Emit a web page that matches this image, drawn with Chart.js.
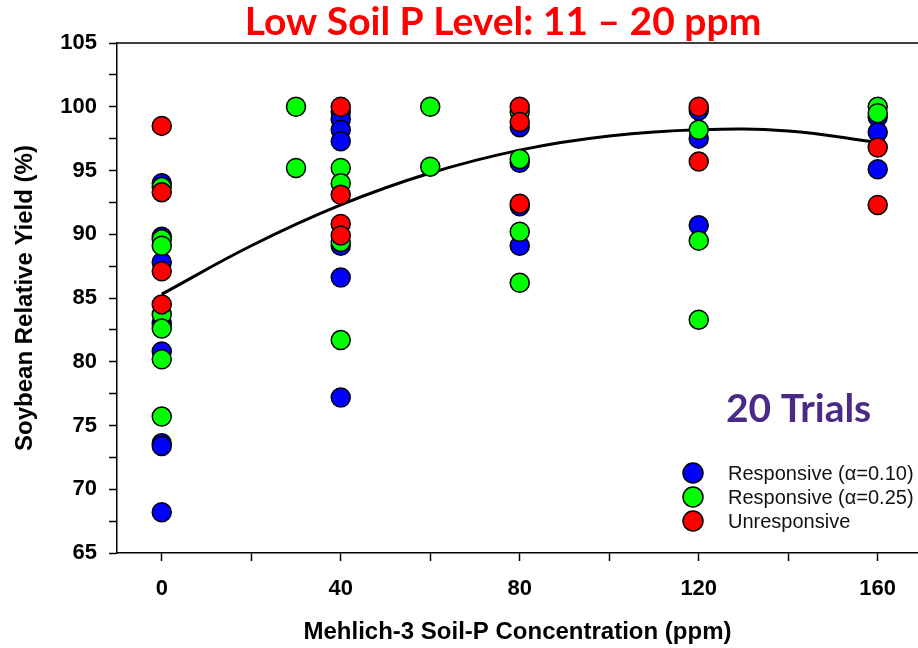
<!DOCTYPE html>
<html lang="en">
<head>
<meta charset="UTF-8">
<title>Low Soil P Level</title>
<script src="https://cdn.jsdelivr.net/npm/chart.js"></script>
<style>
    html, body { margin: 0; padding: 0; background: #fff; }
    #wrap { width: 918px; height: 648px; }
</style>
</head>
<body>
<div id="wrap"><canvas id="grafico"></canvas></div>
<script>
    // values
    const resp10X = [0, 0, 0, 0, 0, 0, 0, 0, 40, 40, 40, 40, 40, 40, 40, 80, 80, 80, 80, 120, 120, 120, 160, 160, 160];
    const resp10Y = [94.0, 89.8, 87.8, 83.0, 80.8, 73.6, 73.4, 68.2, 99.6, 99.0, 98.2, 97.3, 89.1, 86.6, 77.2, 98.4, 95.6, 92.2, 89.1, 99.7, 97.5, 90.7, 99.2, 98.0, 95.1];

    const resp25X = [0, 0, 0, 0, 0, 0, 0, 30, 30, 40, 40, 40, 40, 60, 60, 80, 80, 80, 80, 120, 120, 120, 160, 160];
    const resp25Y = [93.7, 89.6, 89.1, 83.7, 82.6, 80.2, 75.7, 100, 95.2, 95.2, 94.0, 89.4, 81.7, 100, 95.3, 99.6, 95.9, 90.2, 86.2, 98.2, 89.5, 83.3, 100, 99.5];

    const unrespX = [0, 0, 0, 0, 40, 40, 40, 40, 80, 80, 80, 120, 120, 160, 160];
    const unrespY = [98.5, 93.3, 87.1, 84.5, 100, 93.1, 90.8, 89.9, 100, 98.8, 92.4, 100, 95.7, 96.8, 92.3];

    // fitted curve
    const curvaX = [0, 20, 40, 60, 80, 100, 120, 140, 160];
    const curvaY = [85.3, 89.1, 92.3, 94.8, 96.6, 97.7, 98.2, 98.1, 97.2];

    const legendas = ['Responsive (\u03b1=0.10)', 'Responsive (\u03b1=0.25)', 'Unresponsive'];
    const cores = ['#0000ff', '#00ff00', '#ff0000'];

    function pontos(xs, ys) {
        let lista = [];
        for (let i = 0; i < xs.length; i++) {
            lista.push({ x: xs[i], y: ys[i] });
        }
        return lista;
    }

    const extras = {
        id: 'extras',
        afterDraw(chart) {
            const ctx = chart.ctx;
            const area = chart.chartArea;
            ctx.save();
            // top frame line
            ctx.strokeStyle = '#000';
            ctx.lineWidth = 1.5;
            ctx.beginPath();
            ctx.moveTo(area.left, area.top);
            ctx.lineTo(chart.width, area.top);
            ctx.stroke();

            // title
            ctx.fillStyle = '#ff0000';
            ctx.font = 'bold 39px Lato';
            ctx.textAlign = 'center';
            ctx.textBaseline = 'middle';
            ctx.fillText('Low Soil P Level: 11 \u2013 20 ppm', 503, 22);

            // trials note
            ctx.fillStyle = '#4b2a87';
            ctx.font = 'bold 39px Lato';
            ctx.textAlign = 'left';
            ctx.fillText('20 Trials', 726, 409);

            // legend
            ctx.font = '20px "Liberation Sans"';
            for (let i = 0; i < legendas.length; i++) {
                let y = 473 + i * 24;
                ctx.beginPath();
                ctx.arc(693, y, 10, 0, Math.PI * 2);
                ctx.fillStyle = cores[i];
                ctx.fill();
                ctx.lineWidth = 1.5;
                ctx.strokeStyle = '#000';
                ctx.stroke();
                ctx.fillStyle = '#111';
                ctx.fillText(legendas[i], 728, y + 1);
            }
            ctx.restore();
        }
    };

    const fonteEixo = { family: '"Liberation Sans", Arial, sans-serif', size: 22, weight: 'bold' };
    const fonteTitulo = { family: '"Liberation Sans", Arial, sans-serif', size: 24, weight: 'bold' };

    new Chart(document.getElementById('grafico'), {
        type: 'scatter',
        data: {
            datasets: [
                {
                    label: legendas[2],
                    data: pontos(unrespX, unrespY),
                    backgroundColor: cores[2],
                    borderColor: '#000',
                    borderWidth: 1.5,
                    pointRadius: 9.5,
                    order: 0
                },
                {
                    label: legendas[1],
                    data: pontos(resp25X, resp25Y),
                    backgroundColor: cores[1],
                    borderColor: '#000',
                    borderWidth: 1.5,
                    pointRadius: 9.5,
                    order: 1
                },
                {
                    label: legendas[0],
                    data: pontos(resp10X, resp10Y),
                    backgroundColor: cores[0],
                    borderColor: '#000',
                    borderWidth: 1.5,
                    pointRadius: 9.5,
                    order: 2
                },
                {
                    label: 'fit',
                    data: pontos(curvaX, curvaY),
                    showLine: true,
                    borderColor: '#000',
                    borderWidth: 3,
                    pointRadius: 0,
                    tension: 0.4,
                    order: 3
                }
            ]
        },
        options: {
            responsive: true,
            maintainAspectRatio: false,
            animation: false,
            layout: { autoPadding: false, padding: { top: 43, left: 11, right: 0, bottom: 0 } },
            plugins: {
                legend: { display: false },
                tooltip: { enabled: false }
            },
            scales: {
                x: {
                    type: 'linear',
                    min: -10,
                    max: 169,
                    afterBuildTicks: (escala) => {
                        escala.ticks = [0, 20, 40, 60, 80, 100, 120, 140, 160].map(v => ({ value: v }));
                    },
                    afterFit: (escala) => {
                        escala.height = 95;
                        escala.paddingLeft = 0;
                        escala.paddingRight = 0;
                    },
                    border: { color: '#000', width: 1.5 },
                    grid: { drawOnChartArea: false, drawTicks: true, tickLength: 8, tickColor: '#000', tickWidth: 1.5 },
                    ticks: {
                        autoSkip: false,
                        maxRotation: 0,
                        padding: 15,
                        color: '#000',
                        font: fonteEixo,
                        callback: (v) => v % 40 === 0 ? v : ''
                    },
                    title: {
                        display: true,
                        text: 'Mehlich-3 Soil-P Concentration (ppm)',
                        color: '#000',
                        font: fonteTitulo,
                        padding: { top: 0, bottom: 1 }
                    }
                },
                y: {
                    min: 65,
                    max: 105,
                    ticks: {
                        stepSize: 2.5,
                        autoSkip: false,
                        padding: 12,
                        color: '#000',
                        font: fonteEixo,
                        callback: (v) => v % 5 === 0 ? v : ''
                    },
                    afterFit: (escala) => { escala.width = 106; },
                    border: { color: '#000', width: 1.5 },
                    grid: { drawOnChartArea: false, drawTicks: true, tickLength: 8, tickColor: '#000', tickWidth: 1.5 },
                    title: {
                        display: true,
                        text: 'Soybean Relative Yield (%)',
                        color: '#000',
                        font: fonteTitulo,
                        padding: { top: 0, bottom: 0 }
                    }
                }
            }
        },
        plugins: [extras]
    });
</script>
</body>
</html>
